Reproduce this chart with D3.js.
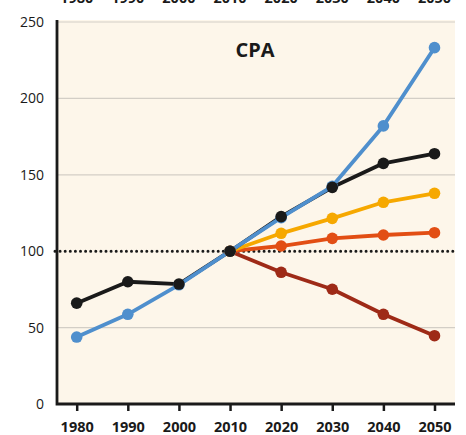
<!DOCTYPE html>
<html>
<head>
<meta charset="utf-8">
<script src="https://cdn.jsdelivr.net/npm/d3@7"></script>
<style>
  html, body { margin: 0; padding: 0; background: #ffffff; }
  svg { display: block; }
</style>
</head>
<body>
<svg id="chart" width="466" height="435"></svg>
<script>
// Decades on the x axis
const years = [1980, 1990, 2000, 2010, 2020, 2030, 2040, 2050];
const yTicks = [0, 50, 100, 150, 200, 250];
const title = "CPA";

// Index values (2010 = 100)
const blackSeries  = [66, 80, 78.5, 100, 122.6, 141.8, 157.5, 163.8];
const blueSeries   = [43.8, 58.7, 78, 100, 122, 142.5, 182, 233.2];
const yellowSeries = [null, null, null, 100, 111.7, 121.5, 132, 137.9];
const orangeSeries = [null, null, null, 100, 103.4, 108.4, 110.6, 112.1];
const redSeries    = [null, null, null, 100, 86.2, 75.1, 58.7, 44.7];

const svg = d3.select("#chart");
const plotLeft = 57, plotRight = 455, plotTop = 22, plotBottom = 404;
const font = "'Open Sans', 'Noto Sans', sans-serif";

const x = d3.scaleLinear().domain([1980, 2050]).range([76.7, 434.5]);
const y = d3.scaleLinear().domain([0, 250]).range([plotBottom, plotTop]);

// plot background
svg.append("rect")
  .attr("x", plotLeft).attr("y", plotTop - 2)
  .attr("width", plotRight - plotLeft).attr("height", plotBottom - plotTop + 2)
  .attr("fill", "#fdf6ea");

// horizontal grid lines
svg.append("g").selectAll("line")
  .data([50, 150, 200, 250])
  .join("line")
  .attr("x1", plotLeft).attr("x2", plotRight)
  .attr("y1", d => y(d)).attr("y2", d => y(d))
  .attr("stroke", "#d3cec6").attr("stroke-width", 1.2);

// reference line at 100
svg.append("line")
  .attr("x1", plotLeft - 2).attr("x2", plotRight - 2)
  .attr("y1", y(100)).attr("y2", y(100))
  .attr("stroke", "#1a1a1a").attr("stroke-width", 3)
  .attr("stroke-dasharray", "0 5.1").attr("stroke-linecap", "round");

// y axis labels
const yAxis = d3.axisLeft(y).tickValues(yTicks).tickSize(0).tickPadding(13);
svg.append("g")
  .attr("transform", `translate(${plotLeft},0)`)
  .call(yAxis)
  .call(g => g.select(".domain").remove())
  .call(g => g.selectAll("text")
    .attr("font-family", font)
    .attr("font-size", 14).attr("fill", "#1a1a1a"));

// bottom axis
const xAxis = d3.axisBottom(x).tickValues(years).tickFormat(d3.format("d"))
  .tickSize(7).tickPadding(11);
svg.append("g")
  .attr("transform", `translate(0,${plotBottom})`)
  .call(xAxis)
  .call(g => g.select(".domain").remove())
  .call(g => g.selectAll(".tick line").attr("stroke", "#1a1a1a").attr("stroke-width", 2.5))
  .call(g => g.selectAll("text")
    .attr("font-family", font)
    .attr("font-weight", "bold")
    .attr("font-size", 14.5).attr("fill", "#1a1a1a"));

// labels repeated above the frame (mostly outside the view)
svg.append("g").selectAll("text")
  .data(years)
  .join("text")
  .attr("x", d => x(d)).attr("y", 2.5)
  .attr("text-anchor", "middle")
  .attr("font-family", font)
  .attr("font-weight", "bold").attr("font-size", 14.5).attr("fill", "#1a1a1a")
  .text(d => d);

// frame: left and bottom axis lines
svg.append("path")
  .attr("d", `M${plotLeft},${plotTop - 2} V${plotBottom} H${plotRight}`)
  .attr("fill", "none").attr("stroke", "#1a1a1a").attr("stroke-width", 2.8);

// title
svg.append("text")
  .attr("x", 255).attr("y", 57)
  .attr("text-anchor", "middle")
  .attr("font-family", font)
  .attr("font-weight", "bold").attr("font-size", 20).attr("fill", "#1a1a1a")
  .text(title);

const series = [
  { values: redSeries,    color: "#9e2a17" },
  { values: orangeSeries, color: "#e24e14" },
  { values: yellowSeries, color: "#f6a800" },
  { values: blackSeries,  color: "#1a1a1a" },
  { values: blueSeries,   color: "#4f8fcd" }
];

const line = d3.line()
  .defined(d => d.v !== null)
  .x(d => x(d.year)).y(d => y(d.v));

const pts = s => years.map((year, i) => ({ year, v: s.values[i] })).filter(d => d.v !== null);

svg.append("g").selectAll("path")
  .data(series)
  .join("path")
  .attr("d", s => line(pts(s)))
  .attr("fill", "none")
  .attr("stroke", s => s.color)
  .attr("stroke-width", 3.8)
  .attr("stroke-linejoin", "round");

// markers: blue first so black dots sit on top
const dotOrder = [series[0], series[1], series[2], series[4], series[3]];
dotOrder.forEach(s => {
  svg.append("g").selectAll("circle")
    .data(pts(s))
    .join("circle")
    .attr("cx", d => x(d.year)).attr("cy", d => y(d.v))
    .attr("r", 5.8)
    .attr("fill", s.color);
});
</script>
</body>
</html>
